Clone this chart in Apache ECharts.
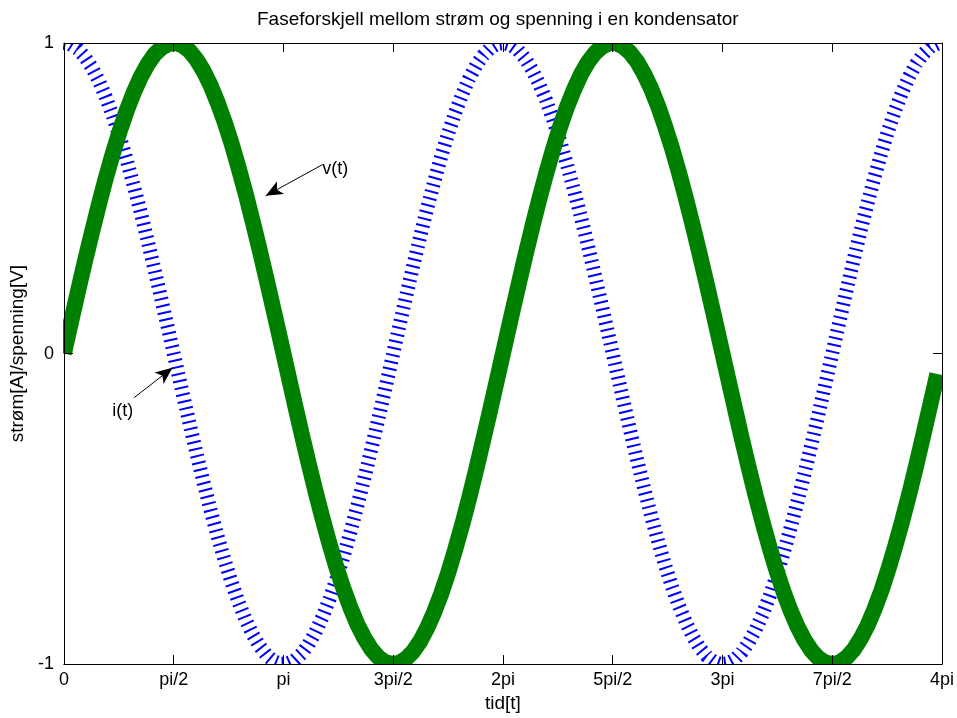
<!DOCTYPE html>
<html>
<head>
<meta charset="utf-8">
<script src="https://cdn.jsdelivr.net/npm/echarts@6/dist/echarts.min.js"></script>
<style>
html, body { margin: 0; padding: 0; background: #ffffff; }
#chart { width: 957px; height: 718px; }
</style>
</head>
<body>
<div id="chart"></div>
<script>
// ---------- data ----------
const titleText = 'Faseforskjell mellom strøm og spenning i en kondensator';
const xAxisName = 'tid[t]';
const yAxisName = 'strøm[A]/spenning[V]';

const timeValues = [
  0.0, 0.1, 0.2, 0.3, 0.4, 0.5, 0.6, 0.7, 0.8, 0.9,
  1.0, 1.1, 1.2, 1.3, 1.4, 1.5, 1.6, 1.7, 1.8, 1.9,
  2.0, 2.1, 2.2, 2.3, 2.4, 2.5, 2.6, 2.7, 2.8, 2.9,
  3.0, 3.1, 3.2, 3.3, 3.4, 3.5, 3.6, 3.7, 3.8, 3.9,
  4.0, 4.1, 4.2, 4.3, 4.4, 4.5, 4.6, 4.7, 4.8, 4.9,
  5.0, 5.1, 5.2, 5.3, 5.4, 5.5, 5.6, 5.7, 5.8, 5.9,
  6.0, 6.1, 6.2, 6.3, 6.4, 6.5, 6.6, 6.7, 6.8, 6.9,
  7.0, 7.1, 7.2, 7.3, 7.4, 7.5, 7.6, 7.7, 7.8, 7.9,
  8.0, 8.1, 8.2, 8.3, 8.4, 8.5, 8.6, 8.7, 8.8, 8.9,
  9.0, 9.1, 9.2, 9.3, 9.4, 9.5, 9.6, 9.7, 9.8, 9.9,
  10.0, 10.1, 10.2, 10.3, 10.4, 10.5, 10.6, 10.7, 10.8, 10.9,
  11.0, 11.1, 11.2, 11.3, 11.4, 11.5, 11.6, 11.7, 11.8, 11.9,
  12.0, 12.1, 12.2, 12.3, 12.4, 12.5
];

// i(t): blue dotted curve
const currentValues = [
  1.000, 0.995, 0.980, 0.955, 0.921, 0.878, 0.825, 0.765, 0.697, 0.622,
  0.540, 0.454, 0.362, 0.267, 0.170, 0.071, -0.029, -0.129, -0.227, -0.323,
  -0.416, -0.505, -0.589, -0.666, -0.737, -0.801, -0.857, -0.904, -0.942, -0.971,
  -0.990, -0.999, -0.998, -0.988, -0.967, -0.937, -0.897, -0.848, -0.791, -0.726,
  -0.654, -0.575, -0.490, -0.401, -0.307, -0.211, -0.112, -0.012, 0.088, 0.187,
  0.284, 0.378, 0.469, 0.554, 0.635, 0.709, 0.776, 0.835, 0.886, 0.928,
  0.960, 0.983, 0.997, 1.000, 0.993, 0.977, 0.950, 0.914, 0.869, 0.816,
  0.754, 0.685, 0.608, 0.526, 0.439, 0.347, 0.251, 0.153, 0.054, -0.046,
  -0.146, -0.244, -0.339, -0.431, -0.519, -0.602, -0.679, -0.749, -0.811, -0.865,
  -0.911, -0.948, -0.975, -0.992, -1.000, -0.997, -0.985, -0.962, -0.930, -0.889,
  -0.839, -0.781, -0.714, -0.641, -0.561, -0.476, -0.385, -0.291, -0.194, -0.095,
  0.004, 0.104, 0.203, 0.300, 0.394, 0.483, 0.568, 0.647, 0.721, 0.786,
  0.844, 0.893, 0.934, 0.965, 0.987, 0.998
];

// v(t): green solid curve
const voltageValues = [
  0.000, 0.100, 0.199, 0.296, 0.389, 0.479, 0.565, 0.644, 0.717, 0.783,
  0.841, 0.891, 0.932, 0.964, 0.985, 0.997, 1.000, 0.992, 0.974, 0.946,
  0.909, 0.863, 0.808, 0.746, 0.676, 0.598, 0.516, 0.427, 0.335, 0.239,
  0.141, 0.042, -0.058, -0.158, -0.256, -0.351, -0.443, -0.530, -0.612, -0.688,
  -0.757, -0.818, -0.872, -0.916, -0.952, -0.978, -0.994, -1.000, -0.996, -0.982,
  -0.959, -0.926, -0.883, -0.832, -0.773, -0.706, -0.631, -0.551, -0.465, -0.374,
  -0.279, -0.182, -0.083, 0.017, 0.117, 0.215, 0.312, 0.405, 0.494, 0.578,
  0.657, 0.729, 0.794, 0.850, 0.899, 0.938, 0.968, 0.988, 0.999, 0.999,
  0.989, 0.970, 0.941, 0.902, 0.855, 0.799, 0.734, 0.663, 0.585, 0.501,
  0.412, 0.319, 0.223, 0.125, 0.025, -0.075, -0.174, -0.272, -0.367, -0.458,
  -0.544, -0.625, -0.700, -0.768, -0.828, -0.880, -0.923, -0.957, -0.981, -0.995,
  -1.000, -0.995, -0.979, -0.954, -0.919, -0.876, -0.823, -0.763, -0.694, -0.618,
  -0.537, -0.450, -0.358, -0.262, -0.164, -0.066
];

const xMin = 0;
const xMax = 12.5664;
const xTickValues = [0, 1.5708, 3.1416, 4.7124, 6.2832, 7.8540, 9.4248, 10.9956, 12.5664];
const xTickLabels = ['0', 'pi/2', 'pi', '3pi/2', '2pi', '5pi/2', '3pi', '7pi/2', '4pi'];
const yTickValues = [-1, 0, 1];
const yTickLabels = ['-1', '0', '1'];

// annotations (data coordinates): label centre, arrow tail, arrow head
const vAnnot = { text: 'v(t)', label: [3.884, 0.595], tail: [3.698, 0.608], head: [2.888, 0.508] };
const iAnnot = { text: 'i(t)', label: [0.843, -0.186], tail: [1.005, -0.142], head: [1.554, -0.046] };

// ---------- chart ----------
const FONT = 'Liberation Sans, Arial, Helvetica, sans-serif';
const chart = echarts.init(document.getElementById('chart'), null, { renderer: 'canvas' });

function pairs(xs, ys) { return xs.map((x, k) => [x, ys[k]]); }
function xLabelFor(v) {
  for (let k = 0; k < xTickValues.length; k++) {
    if (Math.abs(v - xTickValues[k]) < 1e-3) return xTickLabels[k];
  }
  return '';
}
function yLabelFor(v) {
  for (let k = 0; k < yTickValues.length; k++) {
    if (Math.abs(v - yTickValues[k]) < 1e-6) return yTickLabels[k];
  }
  return '';
}

const GRID = { left: 63, right: 15, top: 43, bottom: 53 };
const W = 957, H = 718;

function arrowLine(a) {
  return [{ coord: a.tail, symbol: 'none' }, { coord: a.head, symbol: 'arrow', symbolSize: [11, 17] }];
}
function textPoint(a) {
  return {
    coord: a.label, symbol: 'circle', symbolSize: 0,
    label: { show: true, position: 'inside', formatter: a.text, color: '#000', fontSize: 18, fontFamily: FONT }
  };
}

const axisCommonX = {
  type: 'value', min: xMin, max: xMax,
  axisLine: { show: true, onZero: false, lineStyle: { color: '#000', width: 1 } },
  splitLine: { show: false },
  z: 10
};
const axisCommonY = {
  type: 'value', min: -1, max: 1, interval: 1,
  axisLine: { show: true, onZero: false, lineStyle: { color: '#000', width: 1 } },
  splitLine: { show: false },
  z: 10
};

const option = {
  animation: false,
  backgroundColor: '#ffffff',
  title: {
    text: titleText,
    left: 252, top: 5,
    z: 20,
    textStyle: { fontFamily: FONT, fontSize: 19, fontWeight: 'normal', color: '#000' }
  },
  grid: { left: GRID.left, right: GRID.right, top: GRID.top, bottom: GRID.bottom, containLabel: false },
  graphic: [
    { type: 'rect', z: 5, silent: true, shape: { x: 0, y: 0, width: W, height: GRID.top }, style: { fill: '#fff' } },
    { type: 'rect', z: 5, silent: true, shape: { x: 0, y: H - GRID.bottom, width: W, height: GRID.bottom }, style: { fill: '#fff' } },
    { type: 'rect', z: 5, silent: true, shape: { x: 0, y: 0, width: GRID.left, height: H }, style: { fill: '#fff' } },
    { type: 'rect', z: 5, silent: true, shape: { x: W - GRID.right, y: 0, width: GRID.right, height: H }, style: { fill: '#fff' } }
  ],
  xAxis: [
    Object.assign({}, axisCommonX, {
      position: 'bottom',
      name: xAxisName, nameLocation: 'middle', nameGap: 23,
      nameTextStyle: { fontFamily: FONT, fontSize: 19, color: '#000' },
      axisTick: { show: true, inside: true, length: 9, customValues: xTickValues, lineStyle: { color: '#000' } },
      axisLabel: { show: true, margin: 7, customValues: xTickValues, formatter: xLabelFor, color: '#000', fontFamily: FONT, fontSize: 18, showMinLabel: true, showMaxLabel: true }
    }),
    Object.assign({}, axisCommonX, {
      position: 'top',
      axisTick: { show: true, inside: true, length: 9, customValues: xTickValues, lineStyle: { color: '#000' } },
      axisLabel: { show: false }
    })
  ],
  yAxis: [
    Object.assign({}, axisCommonY, {
      position: 'left',
      name: yAxisName, nameLocation: 'middle', nameGap: 31,
      nameTextStyle: { fontFamily: FONT, fontSize: 19, color: '#000' },
      axisTick: { show: true, inside: true, length: 9, lineStyle: { color: '#000' } },
      axisLabel: { show: true, margin: 10, formatter: yLabelFor, color: '#000', fontFamily: FONT, fontSize: 18 }
    }),
    Object.assign({}, axisCommonY, {
      position: 'right',
      axisTick: { show: true, inside: true, length: 9, lineStyle: { color: '#000' } },
      axisLabel: { show: false }
    })
  ],
  series: [
    {
      name: 'i(t)', type: 'line', xAxisIndex: 0, yAxisIndex: 0,
      data: pairs(timeValues, currentValues),
      showSymbol: false, symbol: 'none', clip: true, z: 2,
      lineStyle: { color: '#0000ff', width: 14, type: [2, 5], cap: 'butt' },
      silent: true
    },
    {
      name: 'v(t)', type: 'line', xAxisIndex: 0, yAxisIndex: 0,
      data: pairs(timeValues, voltageValues),
      showSymbol: false, symbol: 'none', clip: true, z: 3,
      lineStyle: { color: '#008000', width: 16, type: 'solid', cap: 'butt' },
      silent: true,
      markLine: {
        silent: true, animation: false,
        symbol: ['none', 'arrow'],
        label: { show: false },
        lineStyle: { color: '#000', width: 1, type: 'solid' },
        data: [arrowLine(vAnnot), arrowLine(iAnnot)]
      },
      markPoint: {
        silent: true, animation: false,
        data: [textPoint(vAnnot), textPoint(iAnnot)]
      }
    }
  ]
};

chart.setOption(option);
</script>
</body>
</html>
